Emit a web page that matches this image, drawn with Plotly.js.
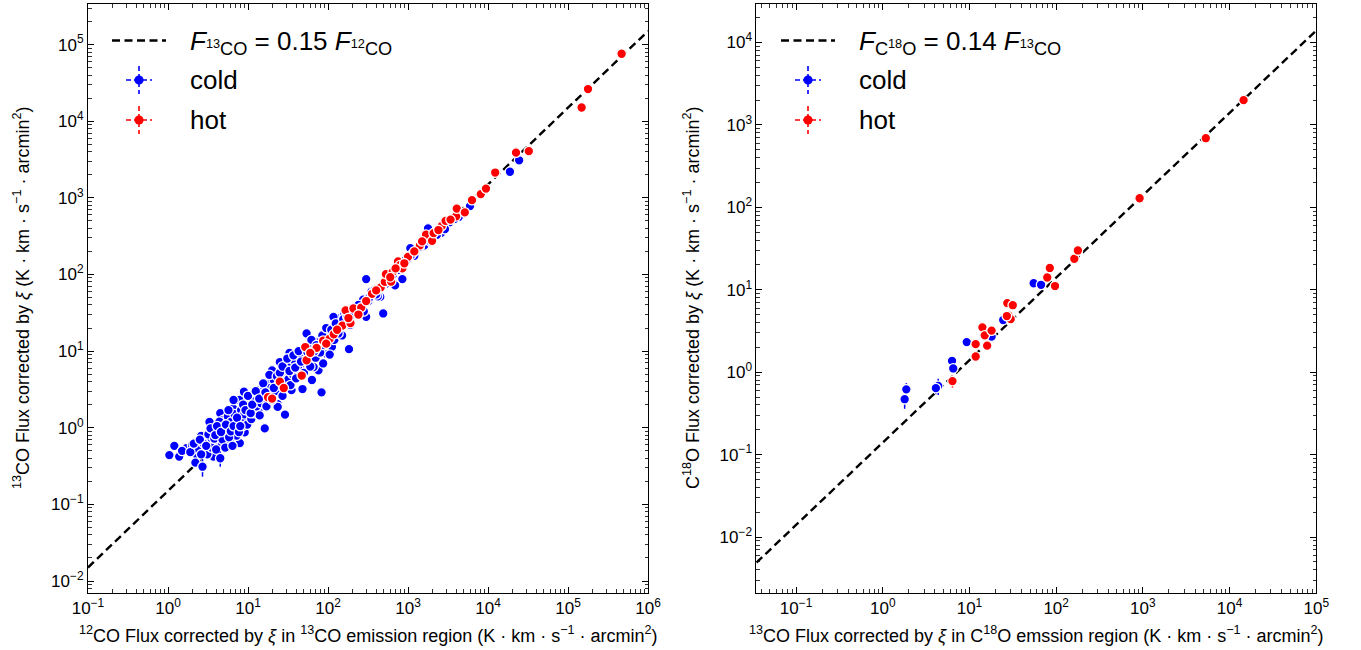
<!DOCTYPE html>
<html>
<head>
<meta charset="utf-8">
<script src="https://cdn.plot.ly/plotly-3.0.1.min.js"></script>
<style>html,body{margin:0;padding:0;background:#fff;}#chart{width:1361px;height:650px;}</style>
</head>
<body>
<div id="chart"></div>
<script>
// ---------- Left panel: 13CO vs 12CO ----------
const leftColdX = [1.04,1.20,1.38,1.70,2.3,2.9,3.7,3.35,3.9,4.7,5.9,7.9,2.6,4.1,5.5,7.2,9.1,3.3,4.3,5.4,4.5,6.5,7.9,8.9,9.5,7.8,13.5,16.2,14.1,16.2,12.3,22.9,17.8,6.0,2.0,2.2,4.9,6.7,
  54,33,35,25,76,63,48,83,87,35,26,15.5,11.7,8.9,6.6,13.5,23.4,20,29,45,66,95,112,129,129,
  300,490,850,690,450,275,220,117,300,1070,1230,18800,24500,1780,29,23.5,183,590,
  5960,4300,1450,2400,700,350,160,220,1000,
  2.4,2.8,3.1,3.2,3.5,3.6,3.8,4.0,4.2,4.4,4.8,5.0,5.2,5.6,5.8,6.2,6.4,6.8,7.0,7.5,8.2,8.5,9.0,9.8,10.5,11,11.5,12,12.8,13,14,14.5,15,17,18,19,20,21,22,24,26,27,28,30,32,34,36,38,40,42,44,50,52,58,60,65,70,75,80,90,100,105,120,140,150,170,190,230,260,320,380,420,520,600,800,900,1200,1600,2000,2600,3300,
  1.5,1.9,2.1,2.5,2.6,3.0,3.4,3.9,4.1,4.6,5.3,5.7,6.1,6.6,7.3,7.7,8.0,8.7,9.3,10,10.8,11.3,12.5,13.8,15.5,16.5,18.5,21,23,25,27,31,33,37,39,43,46,55,62,68,72,85,95,110,125,135,155,175,200,240,280,330,400,470,550,650,750,1100,1400,1900,2300,2900,3800];
const leftColdY = [0.44,0.58,0.42,0.54,0.44,0.49,0.42,0.66,0.63,0.59,0.66,0.63,0.78,0.76,0.85,0.79,0.87,1.19,0.98,1.15,1.55,1.78,1.29,1.26,2.3,2.3,1.66,0.98,3.1,3.4,2.3,2.0,4.0,1.02,0.59,0.35,1.26,1.26,
  17,9.5,6.8,7.2,5.6,4.2,3.2,2.9,6.9,3.1,2.95,3.1,2.7,2.95,2.3,2.3,2.04,5.6,5.4,6.6,6.2,9.3,11.4,17,27,
  87,31,87,72,51,47,30,28,28,220,190,2190,3090,400,1.48,1.87,10.6,85,
  780,560,260,360,110,60,30,38,160,
  0.52,0.62,0.45,0.82,0.55,0.95,0.72,0.52,0.86,1.2,0.70,0.95,0.55,1.4,0.75,1.2,0.58,1.5,0.95,1.1,1.7,1.05,1.5,1.1,1.9,1.3,2.4,1.55,1.9,2.8,1.45,2.1,2.6,1.9,2.6,3.3,2.3,4.2,3.0,3.6,4.6,2.6,3.9,5.6,4.3,3.6,5.0,7.5,4.4,6.0,8.5,5.2,7.6,9.0,6.3,11,8.2,13,9.6,12,15,9.0,14,20,16,24,22,34,40,45,62,52,75,95,120,150,175,240,300,350,480,
  0.50,0.48,0.62,0.70,0.45,0.58,0.98,0.80,1.05,0.88,1.1,1.7,0.90,1.05,1.35,0.88,1.05,2.0,1.7,2.6,1.55,2.0,3.0,2.4,3.8,2.9,4.9,3.3,4.7,5.2,6.3,8.0,5.5,8.8,6.1,10,7.3,9.8,14,10,12,16,20,19,23,17,26,28,30,40,33,50,55,70,85,100,115,180,230,270,330,390,530];
// cold points whose error bars show
const leftColdErrX = [2.7, 4.5];
const leftColdErrY = [0.31, 0.40];
const leftColdErrV = [0.08, 0.09];

const leftHotX = [17.8,20,25,28,47,54,52,72,87,105,118,151,166,191,208,260,355,457,513,530,615,645,750,794,850,1000,1410,1680,2000,2090,2630,2950,4000,4070,5130,6310,8130,9440,12300,22400,32400,148000,178000,468000,
  60,95,130,180,240,300,400,600,700,900,1200,1500,2400,3400];
const leftHotY = [2.5,2.4,4.0,3.3,4.8,7.6,11.3,11,13.7,14.5,16.6,21.5,34,23.2,36,37,56,68,80,101,81,108,148,132,120,170,240,330,275,347,427,500,575,724,646,933,1120,1320,2140,3890,4070,15100,26300,75900,
  9.5,12.5,19,27,30,45,62,92,120,140,200,270,380,520];
const leftRatio = 0.15;

// ---------- Right panel: C18O vs 13CO ----------
const rightColdX = [1.79,1.87,4.36,4.1,6.3,6.5,9.3,18,24.5,55,67];
const rightColdY = [0.47,0.62,0.68,0.64,1.37,1.11,2.32,2.7,4.3,12.0,11.5];
const rightColdErr = [0.11,0.12,0.15,0.10,0.06,0.06,0.08,0.1,0.15,0.3,0.3];
const rightHotX = [6.37,11.8,11.8,14.1,15.0,16.0,18.0,27.3,31.6,28.2,29.9,27,78.9,84.5,97,162,178,917,5320,14500];
const rightHotY = [0.78,2.19,1.55,3.5,2.8,2.1,3.2,6.9,6.5,4.9,4.4,4.8,14.1,18.4,11.1,23.8,30,129,690,2000];
const rightHotErr = [0.13,0.08,0.06,0.1,0.1,0.08,0.1,0.2,0.2,0.15,0.15,0.15,0.4,0.5,0.4,0.6,0.8,3,15,40];
const rightRatio = 0.14;

// axis ranges (log10)
const leftXRange = [-1, 6], leftYRange = [-2.15, 5.527];
const rightXRange = [-1.457, 5], rightYRange = [-2.673, 4.465];

const W = 1361, H = 650;
const BLUE = '#0000ff', RED = '#ff0000';
const FONT = 'Liberation Sans, Arial, sans-serif';

function powLabel(e){ return '10<sup>' + (e<0 ? '\u2212'+(-e) : e) + '</sup>'; }
function majors(r){ const v=[],t=[]; for(let e=Math.ceil(r[0]-1e-9); e<=Math.floor(r[1]+1e-9); e++){v.push(Math.pow(10,e)); t.push(powLabel(e));} return {v,t}; }
function minors(r){ const v=[]; for(let e=Math.floor(r[0]); e<=Math.ceil(r[1]); e++){ for(let m=2;m<=9;m++){ const x=m*Math.pow(10,e); const l=Math.log10(x); if(l>r[0]&&l<r[1]) v.push(x);} } return v; }

function axis(r, domain, anchor){
  const mj = majors(r);
  return {
    type:'log', range:r, domain:domain, anchor:anchor,
    showline:true, linecolor:'black', linewidth:1, mirror:'allticks',
    ticks:'inside', ticklen:6, tickwidth:1, tickcolor:'black',
    tickmode:'array', tickvals:mj.v, ticktext:mj.t,
    tickfont:{family:FONT, size:17, color:'black'},
    minor:{ticks:'inside', ticklen:3.5, tickwidth:0.8, tickcolor:'black', tickmode:'array', tickvals:minors(r), showgrid:false},
    showgrid:false, zeroline:false
  };
}

const mk = (c)=>({color:c, size:9.6, line:{color:'white', width:1.3}});

function fitLine(r, ratio, xa, ya){
  const x=[Math.pow(10,r[0]), Math.pow(10,r[1])];
  return {x:x, y:x.map(v=>ratio*v), mode:'lines', xaxis:xa, yaxis:ya, showlegend:false, hoverinfo:'skip',
    line:{color:'black', width:2.4, dash:'8px,4.5px'}};
}

const traces = [
  fitLine(leftXRange, leftRatio, 'x', 'y'),
  {x:leftColdX, y:leftColdY, mode:'markers', xaxis:'x', yaxis:'y', marker:mk(BLUE), showlegend:false},
  {x:leftColdErrX, y:leftColdErrY, mode:'markers', xaxis:'x', yaxis:'y', marker:mk(BLUE), showlegend:false,
    error_y:{type:'data', array:leftColdErrV, color:BLUE, thickness:1.5, width:0}},
  {x:leftHotX, y:leftHotY, mode:'markers', xaxis:'x', yaxis:'y', marker:mk(RED), showlegend:false},
  fitLine(rightXRange, rightRatio, 'x2', 'y2'),
  {x:rightColdX, y:rightColdY, mode:'markers', xaxis:'x2', yaxis:'y2', marker:mk(BLUE), showlegend:false,
    error_y:{type:'data', array:rightColdErr, color:BLUE, thickness:1.5, width:0}},
  {x:rightHotX, y:rightHotY, mode:'markers', xaxis:'x2', yaxis:'y2', marker:mk(RED), showlegend:false,
    error_y:{type:'data', array:rightHotErr, color:RED, thickness:1.5, width:0}}
];

const px = p => p/W, py = p => 1 - p/H;
const yDom = [1-592.5/H, 1-4.2/H];

// manual legends
const shapes = [], annotations = [];
function legend(x0, lineY, coldY, hotY, label){
  shapes.push({type:'line', xref:'paper', yref:'paper', x0:px(x0), x1:px(x0+54), y0:py(lineY), y1:py(lineY), line:{color:'black', width:2.4, dash:'8px,4.5px'}});
  [[coldY,BLUE],[hotY,RED]].forEach(([cy,c])=>{
    const cx = x0+27;
    shapes.push({type:'line', xref:'paper', yref:'paper', x0:px(cx), x1:px(cx), y0:py(cy-14), y1:py(cy+14), line:{color:c, width:1.6, dash:'5px,3px'}});
    shapes.push({type:'line', xref:'paper', yref:'paper', x0:px(cx-13), x1:px(cx+13), y0:py(cy), y1:py(cy), line:{color:c, width:1.6, dash:'5px,3px'}});
    shapes.push({type:'circle', xref:'paper', yref:'paper', x0:px(cx-4.6), x1:px(cx+4.6), y0:py(cy-4.6), y1:py(cy+4.6), fillcolor:c, line:{color:c, width:0}});
  });
  const tx = x0+76;
  annotations.push({xref:'paper', yref:'paper', x:px(tx), y:py(lineY+2), xanchor:'left', yanchor:'middle', showarrow:false, text:label, font:{family:FONT, size:26, color:'black'}});
  annotations.push({xref:'paper', yref:'paper', x:px(tx), y:py(coldY), xanchor:'left', yanchor:'middle', showarrow:false, text:'cold', font:{family:FONT, size:26, color:'black'}});
  annotations.push({xref:'paper', yref:'paper', x:px(tx), y:py(hotY), xanchor:'left', yanchor:'middle', showarrow:false, text:'hot', font:{family:FONT, size:26, color:'black'}});
}
legend(112, 40.5, 80, 120, '<i>F</i><sub><sup>13</sup>CO</sub> = 0.15 <i>F</i><sub><sup>12</sup>CO</sub>');
legend(781, 40.5, 80, 120, '<i>F</i><sub>C<sup>18</sup>O</sub> = 0.14 <i>F</i><sub><sup>13</sup>CO</sub>');

// axis titles
const tf = {family:FONT, size:18, color:'black'};
annotations.push({xref:'paper', yref:'paper', x:px(368), y:py(634), xanchor:'center', yanchor:'middle', showarrow:false, font:tf,
  text:'<sup>12</sup>CO Flux corrected by <i>\u03be</i> in <sup>13</sup>CO emission region (K \u00b7 km \u00b7 s<sup>\u22121</sup> \u00b7 arcmin<sup>2</sup>)'});
annotations.push({xref:'paper', yref:'paper', x:px(21), y:py(298), xanchor:'center', yanchor:'middle', textangle:-90, showarrow:false, font:tf,
  text:'<sup>13</sup>CO Flux corrected by <i>\u03be</i> (K \u00b7 km \u00b7 s<sup>\u22121</sup> \u00b7 arcmin<sup>2</sup>)'});
annotations.push({xref:'paper', yref:'paper', x:px(1036), y:py(634), xanchor:'center', yanchor:'middle', showarrow:false, font:tf,
  text:'<sup>13</sup>CO Flux corrected by <i>\u03be</i> in C<sup>18</sup>O emssion region (K \u00b7 km \u00b7 s<sup>\u22121</sup> \u00b7 arcmin<sup>2</sup>)'});
annotations.push({xref:'paper', yref:'paper', x:px(691), y:py(298), xanchor:'center', yanchor:'middle', textangle:-90, showarrow:false, font:tf,
  text:'C<sup>18</sup>O Flux corrected by <i>\u03be</i> (K \u00b7 km \u00b7 s<sup>\u22121</sup> \u00b7 arcmin<sup>2</sup>)'});

const layout = {
  width:W, height:H, margin:{l:0,r:0,t:0,b:0}, paper_bgcolor:'white', plot_bgcolor:'white',
  font:{family:FONT, color:'black'}, showlegend:false,
  xaxis: axis(leftXRange, [px(88), px(648)], 'y'),
  yaxis: axis(leftYRange, yDom, 'x'),
  xaxis2: axis(rightXRange, [px(756.4), px(1316.3)], 'y2'),
  yaxis2: axis(rightYRange, yDom, 'x2'),
  shapes:shapes, annotations:annotations
};

Plotly.newPlot('chart', traces, layout, {displayModeBar:false, staticPlot:true});
</script>
</body>
</html>
